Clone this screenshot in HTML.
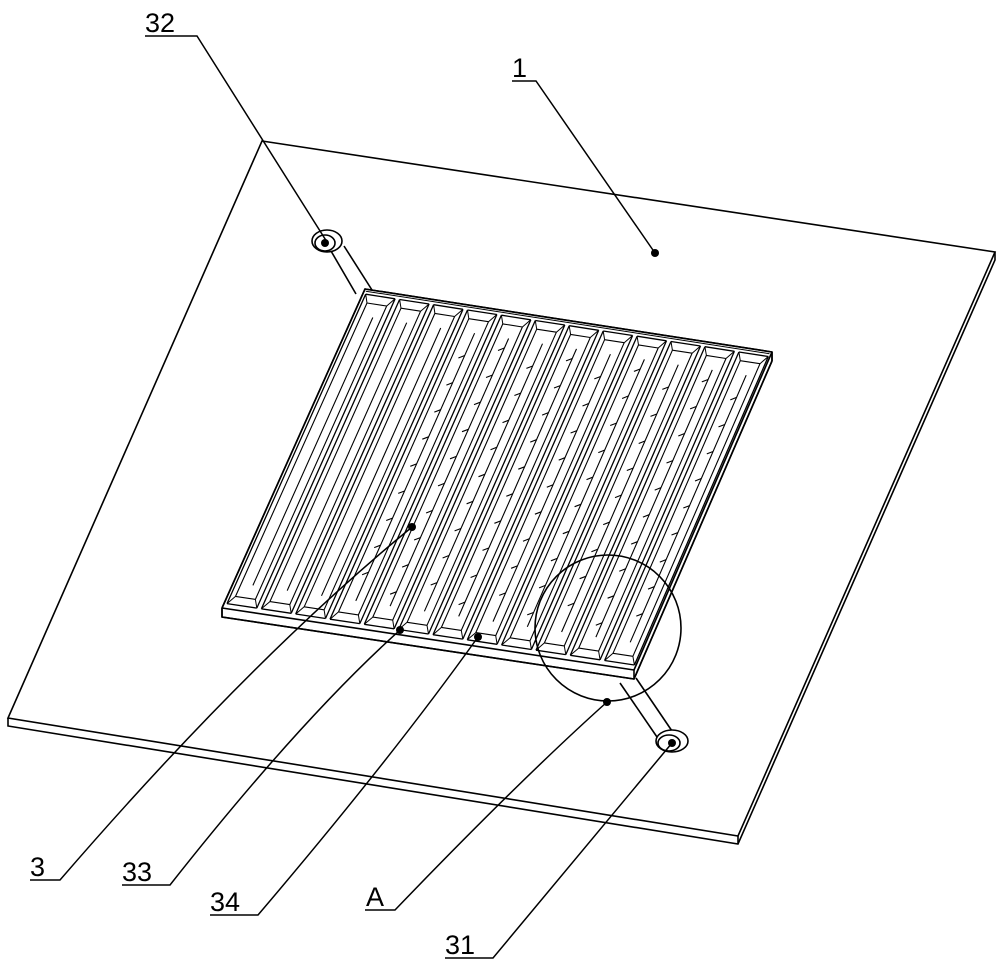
<!DOCTYPE html>
<html><head><meta charset="utf-8"><style>
html,body{margin:0;padding:0;background:#fff;}
svg{display:block;}
text{font-family:"Liberation Sans",sans-serif;font-size:27px;fill:#000;}
</style></head><body>
<svg id="s" width="1000" height="966" viewBox="0 0 1000 966" xmlns="http://www.w3.org/2000/svg" fill="none" stroke="#000" stroke-width="1.6">
<polygon points="262,141 995,252 738,836 8,718" fill="#fff"/>
<polyline points="8,718 8,726 738,844 995,260 995,252"/>
<line x1="738" y1="836" x2="738" y2="844"/>
<line x1="331" y1="251" x2="356" y2="294"/>
<line x1="344" y1="246" x2="372" y2="290"/>
<ellipse cx="327" cy="241" rx="15" ry="11" fill="#fff"/>
<ellipse cx="325" cy="243" rx="10" ry="8"/>
<line x1="620" y1="683" x2="657" y2="737"/>
<line x1="636" y1="678" x2="672" y2="731"/>
<ellipse cx="672" cy="741" rx="16" ry="11" fill="#fff"/>
<ellipse cx="669" cy="743" rx="11" ry="8"/>
<g id="grid"></g>
<circle cx="608" cy="628" r="73"/>
<g stroke-width="1.5">
<polyline points="145,36 197,36 327,242"/>
<polyline points="512,81 536,81 655,253"/>
<path d="M30,880 L60,880 Q250,660 412,527"/>
<path d="M122,885 L170,885 Q300,720 400,630"/>
<path d="M210,915 L258,915 Q390,760 478,637"/>
<path d="M365,910 L395,910 Q520,780 607,702"/>
<polyline points="445,958 493,958 672,743"/>
</g>
<g fill="#000" stroke="none">
<circle cx="325" cy="243" r="4"/><circle cx="655" cy="253" r="4"/>
<circle cx="412" cy="527" r="4"/><circle cx="400" cy="630" r="4"/>
<circle cx="478" cy="637" r="4"/><circle cx="607" cy="702" r="4"/>
<circle cx="672" cy="743" r="4"/>
</g>
<g stroke="none">
<text x="145" y="32">32</text>
<text x="512" y="77">1</text>
<text x="30" y="876">3</text>
<text x="122" y="881">33</text>
<text x="210" y="911">34</text>
<text x="366" y="906">A</text>
<text x="445" y="954">31</text>
</g>
</svg>
<script>
(function(){
var g=document.getElementById('grid');
var A=[365,289],B=[772,352],C=[634,670],D=[222,608];
function P(s,t){var x=(1-s)*(1-t)*A[0]+s*(1-t)*B[0]+s*t*C[0]+(1-s)*t*D[0];
var y=(1-s)*(1-t)*A[1]+s*(1-t)*B[1]+s*t*C[1]+(1-s)*t*D[1];return [x,y];}
var h='';var T=9;
function L(a,b,w){h+='<line x1="'+a[0].toFixed(1)+'" y1="'+a[1].toFixed(1)+'" x2="'+b[0].toFixed(1)+'" y2="'+b[1].toFixed(1)+'"'+(w?' stroke-width="'+w+'"':'')+'/>';}
var a=P(0,0),b=P(1,0),c=P(1,1),d=P(0,1);
h+='<polygon fill="#fff" points="'+a+' '+b+' '+[b[0],b[1]+T]+' '+[c[0],c[1]+T]+' '+[d[0],d[1]+T]+' '+d+'"/>';
L(d,c);L([d[0],d[1]+T],[c[0],c[1]+T]);L(d,[d[0],d[1]+T]);L(c,[c[0],c[1]+T]);L(b,[b[0],b[1]+T]);L([b[0],b[1]+T],[c[0],c[1]+T]);
var n=12,w=1/n;
for(var k=0;k<n;k++){
 var s0=k*w+0.007,s1=(k+1)*w-0.004,t0=0.015,t1=0.985;
 L(P(s0,t0),P(s1,t0),1.3);L(P(s0,t1),P(s1,t1),1.3);
 L(P(s0,t0),P(s0,t1),1.3);L(P(s1,t0),P(s1,t1),1.3);
 var i0=s0+0.012,i1=s1-0.012,u0=0.04,u1=0.96;
 L(P(i0,u0),P(i1,u0),1.1);L(P(i0,u1),P(i1,u1),1.1);
 L(P(i0,u0),P(i0,u1),1.1);L(P(i1,u0),P(i1,u1),1.1);
 L(P(s0,t0),P(i0,u0),1);L(P(s1,t0),P(i1,u0),1);L(P(s0,t1),P(i0,u1),1);L(P(s1,t1),P(i1,u1),1);
 var m=(i0+i1)/2+0.004;
 L(P(m,0.08),P(m,0.92),1.1);
 if(k>=3){for(var t=0.12+(k%2)*0.04;t<0.9;t+=0.085){var p=P(m-0.012,t),q=P(m,t-0.01);L(p,q,1.1);}}
}
L(P(0.004,0.006),P(0.996,0.006),1);
L(a,b);L(b,c);L(a,d);
g.innerHTML=h;
})();
</script>
</body></html>
